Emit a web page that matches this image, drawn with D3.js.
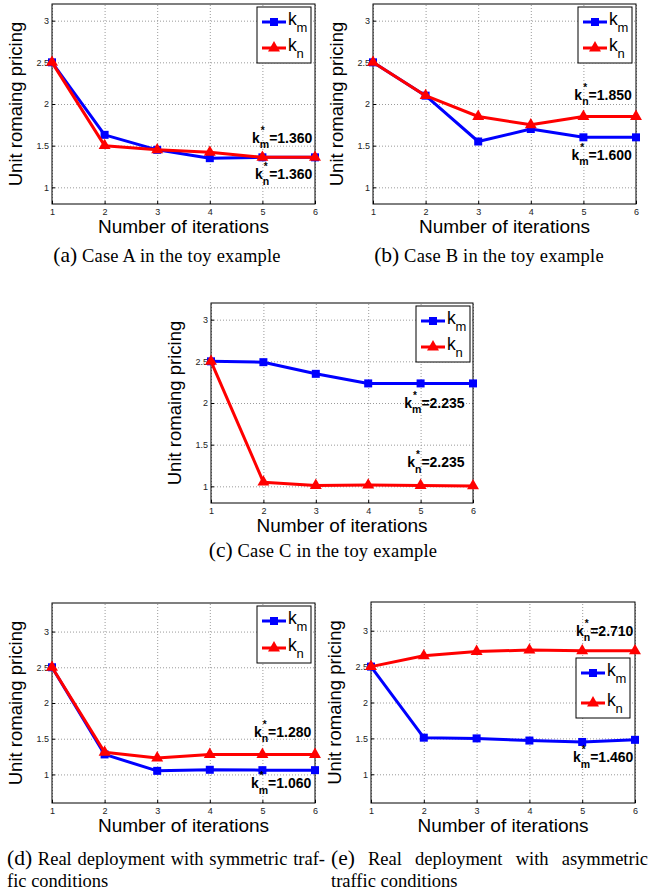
<!DOCTYPE html>
<html>
<head>
<meta charset="utf-8">
<script src="https://cdn.jsdelivr.net/npm/d3@7"></script>
<style>
body { margin: 0; background: #fff; }
svg { display: block; }
</style>
</head>
<body>
<div id="chart"></div>
<script>
// iterations on the x axis
var iterations = [1, 2, 3, 4, 5, 6];
var yTicks = [1, 1.5, 2, 2.5, 3];

// series values
var kmA = [2.5, 1.63, 1.45, 1.35, 1.36, 1.36];
var knA = [2.5, 1.5, 1.45, 1.42, 1.36, 1.36];
var kmB = [2.5, 2.1, 1.55, 1.7, 1.6, 1.6];
var knB = [2.5, 2.1, 1.85, 1.75, 1.85, 1.85];
var kmC = [2.5, 2.49, 2.35, 2.235, 2.235, 2.235];
var knC = [2.5, 1.05, 1.01, 1.015, 1.01, 1.005];
var kmD = [2.5, 1.28, 1.05, 1.065, 1.06, 1.06];
var knD = [2.5, 1.31, 1.23, 1.28, 1.28, 1.28];
var kmE = [2.5, 1.51, 1.5, 1.47, 1.45, 1.48];
var knE = [2.5, 2.65, 2.71, 2.73, 2.72, 2.72];

var seriesNames = ["m", "n"];
var annotA = [["m", "1.360"], ["n", "1.360"]];
var annotB = [["n", "1.850"], ["m", "1.600"]];
var annotC = [["m", "2.235"], ["n", "2.235"]];
var annotD = [["n", "1.280"], ["m", "1.060"]];
var annotE = [["n", "2.710"], ["m", "1.460"]];

var captionA = ["(a)", "Case A in the toy example"];
var captionB = ["(b)", "Case B in the toy example"];
var captionC = ["(c)", "Case C in the toy example"];
var captionD = ["(d)", "Real deployment with symmetric traf-", "fic conditions"];
var captionE = ["(e)", "Real deployment with asymmetric", "traffic conditions"];

var blue = "#0000ff", red = "#ff0000";
var sans = "'Liberation Sans', Arial, sans-serif";
var serif = "'Liberation Serif', 'Times New Roman', serif";
var capSize = 18.5, capLabelSize = 21.5;

var svg = d3.select("#chart").append("svg")
    .attr("width", 658)
    .attr("height", 892)
    .style("background", "#fff");

// layout of each panel
var panels = [
    { left: 52, top: 4, w: 263, h: 200, dom: [0.8, 3.2], km: kmA, kn: knA,
      leg: { dx: -58, dy: 3, h: 56 },
      ann: [{ x: 5.95, y: 1.535, t: annotA[0] }, { x: 5.95, y: 1.095, t: annotA[1] }],
      cap: captionA, capX: 167, capY: 262 },
    { left: 373, top: 4, w: 263, h: 200, dom: [0.8, 3.2], km: kmB, kn: knB,
      leg: { dx: -58, dy: 3, h: 56 },
      ann: [{ x: 5.92, y: 2.05, t: annotB[0] }, { x: 5.92, y: 1.33, t: annotB[1] }],
      cap: captionB, capX: 489, capY: 262 },
    { left: 211, top: 303, w: 262, h: 200, dom: [0.8, 3.2], km: kmC, kn: knC,
      leg: { dx: -57, dy: 3, h: 56 },
      ann: [{ x: 5.84, y: 1.945, t: annotC[0] }, { x: 5.84, y: 1.23, t: annotC[1] }],
      cap: captionC, capX: 323, capY: 557 },
    { left: 52, top: 603, w: 263, h: 200, dom: [0.6, 3.4], km: kmD, kn: knD,
      leg: { dx: -58, dy: 3, h: 57 },
      ann: [{ x: 5.93, y: 1.53, t: annotD[0] }, { x: 5.93, y: 0.81, t: annotD[1] }],
      cap: captionD, capL: 7, capR: 325, capY: 865 },
    { left: 371, top: 602, w: 264, h: 201, dom: [0.6, 3.4], km: kmE, kn: knE,
      leg: { dx: -59, dy: 56, h: 60 },
      ann: [{ x: 5.97, y: 2.93, t: annotE[0] }, { x: 5.97, y: 1.17, t: annotE[1] }],
      cap: captionE, capL: 331, capR: 648, capY: 865 }
];

function marker(sel, kind, color) {
    if (kind === "m") {
        sel.append("rect")
            .attr("x", -4).attr("y", -4)
            .attr("width", 8).attr("height", 8)
            .attr("fill", color);
    } else {
        sel.append("path")
            .attr("d", d3.symbol().type(d3.symbolTriangle).size(62)())
            .attr("fill", color);
    }
}

function drawPanel(p) {
    var x = d3.scaleLinear().domain([1, 6]).range([0, p.w]);
    var y = d3.scaleLinear().domain(p.dom).range([p.h, 0]);

    var g = svg.append("g").attr("transform", "translate(" + p.left + "," + p.top + ")");

    g.append("rect").attr("width", p.w).attr("height", p.h).attr("fill", "#fff");

    // dotted grid
    g.append("g").attr("class", "grid")
        .call(d3.axisLeft(y).tickValues(yTicks).tickSize(-p.w).tickFormat(""))
        .call(function(s) { s.select(".domain").remove(); });
    g.append("g").attr("class", "grid")
        .attr("transform", "translate(0," + p.h + ")")
        .call(d3.axisBottom(x).tickValues(iterations).tickSize(-p.h).tickFormat(""))
        .call(function(s) { s.select(".domain").remove(); });
    g.selectAll(".grid line")
        .attr("stroke", "#9a9a9a")
        .attr("stroke-width", 1)
        .attr("stroke-dasharray", "1,2");

    // axes with inward ticks
    var ya = g.append("g")
        .call(d3.axisLeft(y).tickValues(yTicks).tickSize(-3).tickPadding(3).tickFormat(function(d) { return d; }));
    var xa = g.append("g")
        .attr("transform", "translate(0," + p.h + ")")
        .call(d3.axisBottom(x).tickValues(iterations).tickSize(-3).tickPadding(5).tickFormat(function(d) { return d; }));
    [ya, xa].forEach(function(a) {
        a.select(".domain").remove();
        a.selectAll("text").attr("font-family", sans).attr("font-size", 9).attr("fill", "#222");
        a.selectAll("line").attr("stroke", "#000");
    });

    g.append("rect").attr("width", p.w).attr("height", p.h)
        .attr("fill", "none").attr("stroke", "#000").attr("stroke-width", 1);

    // axis titles
    g.append("text")
        .attr("transform", "translate(-30," + (p.h / 2) + ") rotate(-90)")
        .attr("text-anchor", "middle")
        .attr("font-family", sans).attr("font-size", 18.5)
        .text("Unit romaing pricing");
    g.append("text")
        .attr("x", p.w / 2).attr("y", p.h + 29)
        .attr("text-anchor", "middle")
        .attr("font-family", sans).attr("font-size", 19)
        .text("Number of iterations");

    // lines and markers
    var line = d3.line()
        .x(function(d, i) { return x(iterations[i]); })
        .y(function(d) { return y(d); });
    [["m", p.km, blue], ["n", p.kn, red]].forEach(function(s) {
        g.append("path").datum(s[1])
            .attr("d", line)
            .attr("fill", "none")
            .attr("stroke", s[2])
            .attr("stroke-width", 3)
            .attr("stroke-linejoin", "round");
        g.selectAll(null).data(s[1]).enter().append("g")
            .attr("transform", function(d, i) { return "translate(" + x(iterations[i]) + "," + y(d) + ")"; })
            .each(function() { marker(d3.select(this), s[0], s[2]); });
    });

    // legend
    var lw = 54;
    var lg = g.append("g").attr("transform", "translate(" + (p.w + p.leg.dx) + "," + p.leg.dy + ")");
    lg.append("rect").attr("width", lw).attr("height", p.leg.h)
        .attr("fill", "#fff").attr("stroke", "#000").attr("stroke-width", 1);
    var rowY = [15, p.leg.h - 15];
    seriesNames.forEach(function(nm, i) {
        var c = nm === "m" ? blue : red;
        var ry = rowY[i];
        lg.append("line").attr("x1", 5).attr("x2", 29).attr("y1", ry).attr("y2", ry)
            .attr("stroke", c).attr("stroke-width", 3);
        marker(lg.append("g").attr("transform", "translate(17," + ry + ")"), nm, c);
        lg.append("text").attr("x", 31).attr("y", ry + 2.5)
            .attr("font-family", sans).attr("font-size", 17.5).text("k");
        lg.append("text").attr("x", 39.5).attr("y", ry + 9.5)
            .attr("font-family", sans).attr("font-size", 13).text(nm);
    });

    // value annotations
    p.ann.forEach(function(a) {
        var ag = g.append("g");
        var k = ag.append("text").attr("x", 0).attr("y", 0)
            .attr("font-family", sans).attr("font-weight", "bold").attr("font-size", 14).text("k");
        var kw = k.node().getComputedTextLength();
        ag.append("text").attr("x", kw + 1).attr("y", -9)
            .attr("font-family", sans).attr("font-weight", "bold").attr("font-size", 10).text("*");
        var sub = ag.append("text").attr("x", kw).attr("y", 5.5)
            .attr("font-family", sans).attr("font-weight", "bold").attr("font-size", 10.5).text(a.t[0]);
        var sw = sub.node().getComputedTextLength();
        var v = ag.append("text").attr("x", kw + sw).attr("y", 0)
            .attr("font-family", sans).attr("font-weight", "bold").attr("font-size", 14).text("=" + a.t[1]);
        var total = kw + sw + v.node().getComputedTextLength();
        ag.attr("transform", "translate(" + (x(a.x) - total) + "," + y(a.y) + ")");
    });

    // caption
    if (p.cap.length === 2) {
        var ct = svg.append("text")
            .attr("x", p.capX).attr("y", p.capY)
            .attr("text-anchor", "middle")
            .attr("font-family", serif);
        ct.append("tspan").attr("font-size", capLabelSize).text(p.cap[0]);
        ct.append("tspan").attr("font-size", capSize).attr("letter-spacing", 0.2).text(" " + p.cap[1]);
    } else {
        // justified first line, left-aligned second line
        var words = [p.cap[0]].concat(p.cap[1].split(" "));
        var nodes = words.map(function(wd, i) {
            return svg.append("text").attr("y", p.capY)
                .attr("font-family", serif)
                .attr("font-size", i === 0 ? capLabelSize : capSize)
                .text(wd);
        });
        var widths = nodes.map(function(n) { return n.node().getComputedTextLength(); });
        var gap = (p.capR - p.capL - d3.sum(widths)) / (words.length - 1);
        var cx = p.capL;
        nodes.forEach(function(n, i) {
            n.attr("x", cx);
            cx += widths[i] + gap;
        });
        svg.append("text").attr("x", p.capL).attr("y", p.capY + 22)
            .attr("font-family", serif).attr("font-size", capSize)
            .text(p.cap[2]);
    }
}

panels.forEach(drawPanel);
</script>
</body>
</html>
